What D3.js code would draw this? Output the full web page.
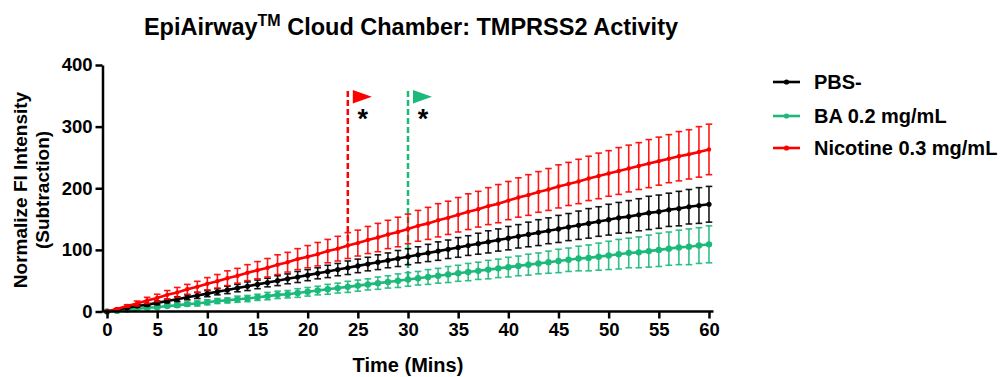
<!DOCTYPE html>
<html><head><meta charset="utf-8">
<script src="https://cdn.jsdelivr.net/npm/d3@7"></script>
<style>body{margin:0;background:#fff}svg{display:block}text{font-family:"Liberation Sans",Arial,sans-serif;font-weight:bold}</style>
</head><body><svg id="c" width="1000" height="377"></svg>
<script>
const times = d3.range(0, 61);
const xTicks = [0,5,10,15,20,25,30,35,40,45,50,55,60];
const yTicks = [0,100,200,300,400];
const seriesNames = ["PBS-", "BA 0.2 mg/mL", "Nicotine 0.3 mg/mL"];
const seriesColors = ["#000000", "#1cb97a", "#ff0000"];
const pbsMean = [0,3,6,9,11,14,17,20,23,26,29,32,35,38,41,44,47,50,53,56,59,62,65,68,71,74,77,80,83,86,89,92,95,98,101,104,107,110,113,116,119,122,125,128,131,134,137,140,143,146,149,152,154,157,160,162,165,167,170,172,174];
const pbsErr = [0,1,1,2,2,3,3,4,4,5,5,5,6,6,7,7,7,8,8,9,9,9,10,10,11,11,11,12,12,13,13,13,14,15,15,16,16,17,18,18,19,19,20,21,21,22,22,23,24,24,25,25,26,26,27,27,27,28,28,29,29];
const baMean = [0,1,3,4,6,7,9,10,12,13,15,17,18,20,21,23,25,27,28,30,32,34,36,38,40,42,44,46,48,50,52,54,56,58,60,62,64,66,68,70,72,74,76,78,80,82,84,86,87,89,91,93,95,96,98,100,102,104,105,107,109];
const baErr = [0,0,1,1,2,2,2,3,3,4,4,4,4,5,5,5,6,6,6,7,7,7,8,8,9,9,9,10,10,11,11,11,12,12,13,13,14,14,15,15,16,16,17,17,18,19,19,20,21,22,23,24,24,25,26,27,27,28,29,29,30];
const nicMean = [0,4,9,13,18,22,27,31,36,40,45,49,54,58,63,67,71,76,80,85,89,93,98,102,107,111,116,120,125,129,134,139,143,148,152,157,162,166,171,175,180,185,189,194,198,203,207,211,216,220,224,228,232,236,240,244,248,252,255,259,263];
const nicErr = [0,1,2,4,5,6,7,8,8,9,10,11,12,12,13,14,15,16,16,17,18,19,19,20,21,21,22,23,23,24,24,25,26,27,27,28,29,29,30,31,31,32,33,33,34,35,35,36,36,37,37,38,38,38,39,39,39,40,40,41,41];
const markers = [{t:24, series:2, top:358}, {t:30, series:1, top:358}];

const svg = d3.select("#c");
const x = d3.scaleLinear().domain([-0.45, 60.45]).range([102.5, 713.5]);
const y = d3.scaleLinear().domain([0, 400]).range([311.5, 65]);
const xs = d3.scaleLinear().domain([0,60]).range([x(0), x(60)]);

const series = [
  {mean: baMean, err: baErr, color: seriesColors[1], r: 3.2},
  {mean: pbsMean, err: pbsErr, color: seriesColors[0], r: 2.6},
  {mean: nicMean, err: nicErr, color: seriesColors[2], r: 2.2}
];

const allMeans = [pbsMean, baMean, nicMean];
markers.forEach(m => {
  const col = seriesColors[m.series];
  const xv = x(m.t);
  svg.append("line").attr("x1", xv).attr("x2", xv)
    .attr("y1", y(m.top)).attr("y2", y(allMeans[m.series][m.t]))
    .attr("stroke", col).attr("stroke-width", 2.5).attr("stroke-dasharray", "6,3");
  const fx = xv + 5, fy = y(m.top) - 1;
  svg.append("path").attr("d", `M${fx},${fy}L${fx},${fy+13.5}L${fx+19},${fy+6.75}Z`).attr("fill", col);
  svg.append("text").attr("x", fx + 10).attr("y", fy + 38).attr("text-anchor", "middle")
    .attr("font-size", 27).text("*");
});

series.forEach(s => {
  const g = svg.append("g");
  times.forEach((t, i) => {
    if (s.err[i] <= 0) return;
    const xv = x(t), y1 = y(s.mean[i] + s.err[i]), y2 = y(s.mean[i] - s.err[i]);
    g.append("line").attr("x1", xv).attr("x2", xv).attr("y1", y1).attr("y2", y2).attr("stroke", s.color).attr("stroke-width", 1.6).attr("opacity", 0.9);
    [y1, y2].forEach(yy => g.append("line").attr("x1", xv-3.3).attr("x2", xv+3.3).attr("y1", yy).attr("y2", yy).attr("stroke", s.color).attr("stroke-width", 1.6).attr("opacity", 0.9));
  });
  g.append("path").datum(times).attr("fill", "none").attr("stroke", s.color).attr("stroke-width", 2.6)
    .attr("d", d3.line().x(t => x(t)).y((t,i) => y(s.mean[i])));
  g.selectAll("circle").data(times).join("circle").attr("cx", t => x(t)).attr("cy", (t,i) => y(s.mean[i])).attr("r", s.r).attr("fill", s.color);
});

const xAxis = svg.append("g").attr("transform", "translate(0,311.5)")
  .call(d3.axisBottom(xs).tickValues(xTicks).tickSize(7).tickPadding(4).tickSizeOuter(0));
const yAxis = svg.append("g").attr("transform", "translate(102.5,0)")
  .call(d3.axisLeft(y).tickValues(yTicks).tickSize(7).tickPadding(3).tickSizeOuter(0));
svg.append("line").attr("x1", 102.5).attr("x2", 713.5).attr("y1", 311.5).attr("y2", 311.5).attr("stroke", "#000").attr("stroke-width", 2.5);
[xAxis, yAxis].forEach(a => {
  a.select(".domain").attr("stroke-width", 2.5);
  a.selectAll(".tick line").attr("stroke-width", 2.5);
  a.selectAll(".tick text").attr("font-size", 18.5).attr("font-family", "Liberation Sans, Arial, sans-serif").attr("font-weight", "bold").attr("fill", "#000");
});
xAxis.select(".domain").remove();

const title = svg.append("text").attr("x", 411).attr("y", 35).attr("text-anchor", "middle").attr("font-size", 23.5);
title.append("tspan").text("EpiAirway");
title.append("tspan").attr("font-size", 16).attr("dy", -9).text("TM");
title.append("tspan").attr("dy", 9).text(" Cloud Chamber: TMPRSS2 Activity");

svg.append("text").attr("x", 408).attr("y", 372).attr("text-anchor", "middle").attr("font-size", 20).text("Time (Mins)");
const yl = svg.append("text").attr("transform", "translate(27,190) rotate(-90)").attr("text-anchor", "middle").attr("font-size", 19);
yl.append("tspan").attr("x", 0).attr("dy", 0).text("Normalize FI Intensity");
yl.append("tspan").attr("x", 0).attr("dy", 22).text("(Subtraction)");

const ly = [82, 116, 148];
[0, 1, 2].forEach((si, k) => {
  const col = seriesColors[si];
  svg.append("line").attr("x1", 773).attr("x2", 800).attr("y1", ly[k]).attr("y2", ly[k]).attr("stroke", col).attr("stroke-width", 2.6);
  svg.append("circle").attr("cx", 786.5).attr("cy", ly[k]).attr("r", 2.6).attr("fill", col);
  svg.append("text").attr("x", 814).attr("y", ly[k] + 7).attr("font-size", 20).text(seriesNames[si]);
});
</script></body></html>
